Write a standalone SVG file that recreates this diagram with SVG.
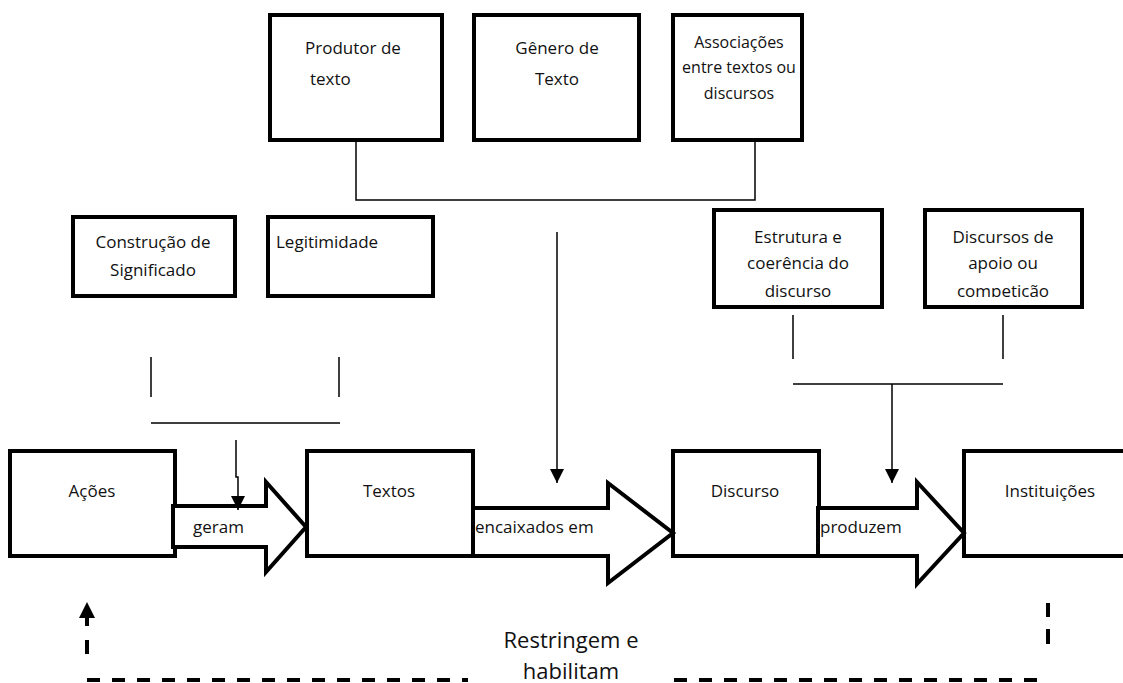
<svg xmlns="http://www.w3.org/2000/svg" width="1123" height="683" viewBox="0 0 1123 683">
<style>
.box{fill:#fff;stroke:#000;stroke-width:4}
.big{fill:#fff;stroke:#000;stroke-width:4;stroke-linejoin:miter}
.thin{fill:none;stroke:#000;stroke-width:1.5}
.dash{fill:none;stroke:#000;stroke-width:4}
text{font-family:"Open Sans","Liberation Sans",sans-serif;font-size:17px;fill:#111}
.c{text-anchor:middle}
.sm{font-size:16px}
.lg{font-size:22px}
</style>
<defs>
<marker id="ah" markerUnits="userSpaceOnUse" markerWidth="16" markerHeight="14" refX="14" refY="7" orient="auto">
<path d="M0,0 L14,7 L0,14 Z" fill="#000"/>
</marker>
<clipPath id="clipE"><rect x="716" y="212" width="164" height="85"/></clipPath>
<clipPath id="clipD"><rect x="927" y="212" width="153" height="85"/></clipPath>
</defs>

<g id="produtor">
<rect class="box" x="270" y="15" width="172" height="125"/>
<text x="305" y="54">Produtor de</text>
<text x="310" y="85">texto</text>
</g>
<g id="genero">
<rect class="box" x="474" y="15" width="165" height="125"/>
<text class="c" x="557" y="54">Gênero de</text>
<text class="c" x="557" y="85">Texto</text>
</g>
<g id="associacoes">
<rect class="box" x="673" y="15" width="129" height="125"/>
<text class="c sm" x="739" y="48">Associações</text>
<text class="c sm" x="739" y="73">entre textos ou</text>
<text class="c sm" x="739" y="99">discursos</text>
</g>
<g id="construcao">
<rect class="box" x="73" y="217" width="162" height="79"/>
<text class="c" x="153" y="248">Construção de</text>
<text class="c" x="153" y="276">Significado</text>
</g>
<g id="legitimidade">
<rect class="box" x="268" y="217" width="165" height="79"/>
<text x="276" y="248">Legitimidade</text>
</g>
<g id="estrutura">
<rect class="box" x="714" y="210" width="168" height="97"/>
<g clip-path="url(#clipE)">
<text class="c" x="798" y="243">Estrutura e</text>
<text class="c" x="798" y="269">coerência do</text>
<text class="c" x="798" y="297">discurso</text>
</g>
</g>
<g id="discursos-apoio">
<rect class="box" x="925" y="210" width="157" height="97"/>
<g clip-path="url(#clipD)">
<text class="c" x="1003" y="243">Discursos de</text>
<text class="c" x="1003" y="269">apoio ou</text>
<text class="c" x="1003" y="297">competição</text>
</g>
</g>

<g id="acoes">
<rect class="box" x="10" y="451" width="165" height="105"/>
<text class="c" x="92" y="497">Ações</text>
</g>
<g id="textos">
<rect class="box" x="307" y="451" width="166" height="105"/>
<text class="c" x="389" y="497">Textos</text>
</g>
<g id="discurso">
<rect class="box" x="673" y="451" width="146" height="105"/>
<text class="c" x="745" y="497">Discurso</text>
</g>
<g id="instituicoes">
<rect class="box" x="964" y="451" width="175" height="105"/>
<text class="c" x="1050" y="497">Instituições</text>
</g>

<g id="connectors">
<path class="big" d="M173,506 H266 V482 L306,527 L266,572 V547 H173 Z"/>
<path class="big" d="M473,508 H608 V483 L673,533 L608,583 V556 H473 Z"/>
<path class="big" d="M818,508 H917 V482 L964,533 L917,584 V556 H818 Z"/>
<path class="thin" d="M356,140 V200 H755 V140"/>
<path class="thin" d="M557,232 V483" marker-end="url(#ah)"/>
<path class="thin" d="M151,357 V397 M339,357 V397 M151,423 H340"/>
<path class="thin" d="M236,440 V477 H238 V510" marker-end="url(#ah)"/>
<path class="thin" d="M793,315 V359 M1003,315 V359 M793,384 H1003"/>
<path class="thin" d="M892,384 V483" marker-end="url(#ah)"/>
<path class="dash" d="M87,680 H468" stroke-dasharray="13 12"/>
<path class="dash" d="M674,680 H1048" stroke-dasharray="13 12"/>
<path class="dash" d="M1048,603 V617 M1048,629 V644"/>
<path class="dash" d="M87,654 V640 M87,626 V614"/>
<path d="M79,618 L87,602 L95,618 Z" fill="#000"/>
</g>
<g id="label-restringem">
<text class="c lg" x="571" y="648">Restringem e</text>
<text class="c lg" x="571" y="679">habilitam</text>
</g>
<text x="193" y="533">geram</text>
<text x="475" y="533">encaixados em</text>
<text x="820" y="533">produzem</text>
</svg>
